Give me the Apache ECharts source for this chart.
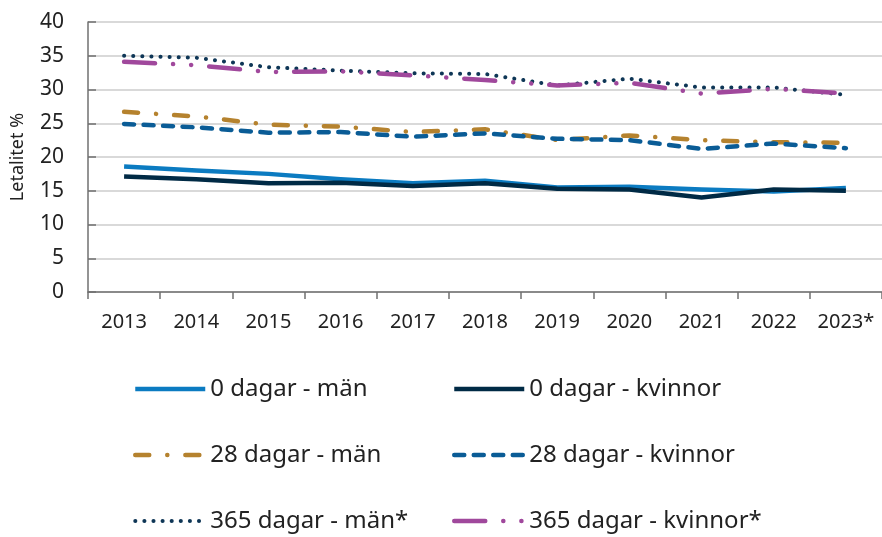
<!DOCTYPE html>
<html>
<head>
<meta charset="utf-8">
<script src="https://cdn.jsdelivr.net/npm/echarts@6/dist/echarts.min.js"></script>
<style>
  html, body { margin: 0; padding: 0; background: #fff; }
  #main { width: 882px; height: 537px; }
</style>
</head>
<body>
<div id="main"></div>
<script>
// år
const years = ["2013", "2014", "2015", "2016", "2017", "2018", "2019", "2020", "2021", "2022", "2023*"];

// letalitet i procent
const dag0Man = [18.6, 18.0, 17.5, 16.7, 16.1, 16.5, 15.5, 15.6, 15.2, 14.9, 15.4];
const dag0Kvinnor = [17.1, 16.7, 16.1, 16.2, 15.7, 16.1, 15.3, 15.2, 14.0, 15.2, 15.0];
const dag28Man = [26.7, 26.0, 24.8, 24.5, 23.7, 24.1, 22.5, 23.2, 22.5, 22.2, 22.1];
const dag28Kvinnor = [24.9, 24.4, 23.6, 23.7, 23.0, 23.5, 22.7, 22.5, 21.2, 22.0, 21.3];
const dag365Man = [35.0, 34.7, 33.3, 32.8, 32.4, 32.3, 30.6, 31.6, 30.3, 30.3, 29.2];
const dag365Kvinnor = [34.1, 33.6, 32.6, 32.7, 32.1, 31.4, 30.6, 31.0, 29.4, 30.1, 29.4];

const FONT = "Noto Sans";
const TEXT = "#222222";
const AXIS = "#707070";

function serie(name, data, color, width, dash) {
  return {
    name: name,
    type: "line",
    data: data,
    symbol: "none",
    smooth: false,
    lineStyle: {
      color: color,
      width: width,
      type: dash || "solid",
      cap: dash ? "round" : "butt",
      join: "round"
    },
    itemStyle: { color: color }
  };
}

function legendColumn(left, names) {
  return {
    orient: "vertical",
    left: left,
    top: 377,
    padding: 0,
    itemWidth: 70,
    itemHeight: 24,
    itemGap: 42,
    itemStyle: { opacity: 0 },
    lineStyle: { width: "inherit", type: "inherit", cap: "inherit" },
    textStyle: { fontFamily: FONT, fontSize: 24, color: TEXT, padding: [0, 0, 0, 0] },
    data: names
  };
}

const myChart = echarts.init(document.getElementById("main"), null, { renderer: "canvas" });

const option = {
  animation: false,
  backgroundColor: "#ffffff",
  textStyle: { fontFamily: FONT, color: TEXT },
  grid: {
    left: 88,
    right: 0,
    top: 22,
    bottom: 245,
    containLabel: false
  },
  legend: [
    legendColumn(133, ["0 dagar - män", "28 dagar - män", "365 dagar - män*"]),
    legendColumn(452, ["0 dagar - kvinnor", "28 dagar - kvinnor", "365 dagar - kvinnor*"])
  ],
  xAxis: {
    type: "category",
    data: years,
    boundaryGap: true,
    axisLine: { lineStyle: { color: AXIS, width: 1.5 } },
    axisTick: { show: true, length: 7, lineStyle: { color: AXIS, width: 1.5 } },
    axisLabel: { interval: 0, hideOverlap: false, fontFamily: FONT, fontSize: 20, color: TEXT, margin: 20 },
    splitLine: { show: false }
  },
  yAxis: {
    type: "value",
    min: 0,
    max: 40,
    interval: 5,
    name: "Letalitet %",
    nameLocation: "middle",
    nameRotate: 90,
    nameGap: 61,
    nameTextStyle: { fontFamily: FONT, fontSize: 18, color: TEXT },
    axisLine: { show: true, lineStyle: { color: AXIS, width: 1.5 } },
    axisTick: { show: true, inside: true, length: 8, lineStyle: { color: AXIS, width: 1.5 } },
    axisLabel: { fontFamily: FONT, fontSize: 21, color: TEXT, margin: 24 },
    splitLine: { show: true, lineStyle: { color: "#cccccc", width: 1.5 } }
  },
  series: [
    serie("0 dagar - män", dag0Man, "#0b7bc1", 4.5),
    serie("0 dagar - kvinnor", dag0Kvinnor, "#002a45", 4.5),
    serie("28 dagar - män", dag28Man, "#b5822e", 4.5, [14, 18, 0.1, 18]),
    serie("28 dagar - kvinnor", dag28Kvinnor, "#0a5c96", 4.5, [10, 9.5]),
    serie("365 dagar - män*", dag365Man, "#0e3656", 4, [0.1, 9]),
    serie("365 dagar - kvinnor*", dag365Kvinnor, "#a0489c", 4.5, [31, 18, 0.1, 18, 0.1, 18])
  ]
};

myChart.setOption(option);
</script>
</body>
</html>
